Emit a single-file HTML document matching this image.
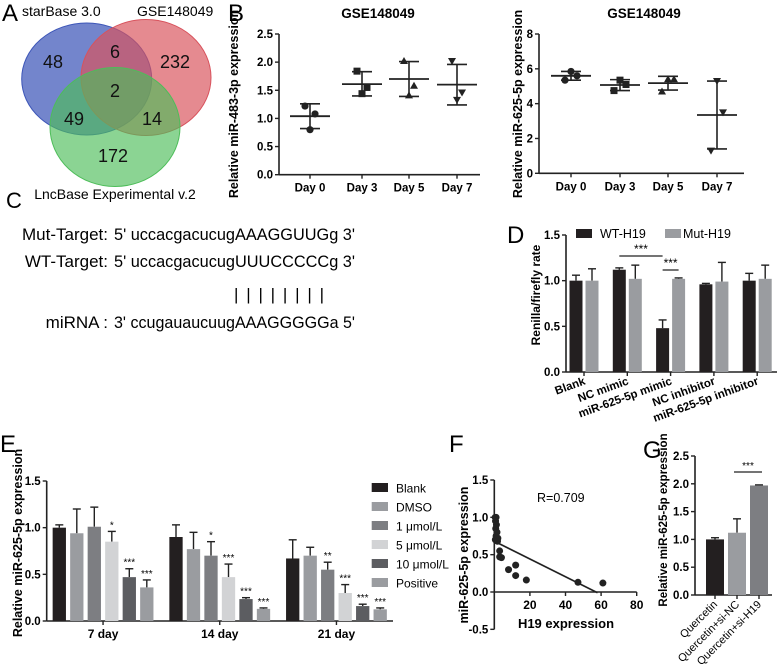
<!DOCTYPE html>
<html><head><meta charset="utf-8"><style>
html,body{margin:0;padding:0;background:#fff}
svg{display:block;font-family:"Liberation Sans",Arial,sans-serif}
.t{font-weight:bold;font-size:11.5px}
</style></head><body>
<svg id="fig" width="777" height="671" viewBox="0 0 777 671">
<g>
<text x="2" y="21" font-size="24">A</text>
<ellipse cx="86.7" cy="79" rx="65" ry="56" fill="#3d56b8" fill-opacity="0.72" stroke="#3d56b8"/>
<ellipse cx="146" cy="77.5" rx="65" ry="58" fill="#d8525c" fill-opacity="0.68" stroke="#d8525c"/>
<ellipse cx="115" cy="127" rx="65" ry="59.5" fill="#4dbd59" fill-opacity="0.65" stroke="#4dbd59"/>
<text x="22" y="16" font-size="14">starBase 3.0</text>
<text x="137" y="16" font-size="14">GSE148049</text>
<text x="115" y="199" font-size="14" text-anchor="middle">LncBase Experimental v.2</text>
<g font-size="18" text-anchor="middle" fill="#111">
<text x="53" y="68">48</text>
<text x="115" y="58">6</text>
<text x="175" y="68">232</text>
<text x="115" y="97">2</text>
<text x="74" y="125">49</text>
<text x="152" y="125">14</text>
<text x="113" y="162">172</text>
</g>
</g>
<text x="228" y="21" font-size="24">B</text>
<g font-size="17">
<text x="6" y="208" font-size="22">C</text>
<text x="108" y="240" text-anchor="end">Mut-Target:</text>
<text x="114" y="240" textLength="241" lengthAdjust="spacingAndGlyphs">5' uccacgacucugAAAGGUUGg 3'</text>
<text x="108" y="267" text-anchor="end">WT-Target:</text>
<text x="114" y="267" textLength="241" lengthAdjust="spacingAndGlyphs">5' uccacgacucugUUUCCCCCg 3'</text>
<text x="234" y="300" textLength="90" lengthAdjust="spacing">| | | | | | | |</text>
<text x="108" y="328" text-anchor="end">miRNA :</text>
<text x="114" y="328" textLength="241" lengthAdjust="spacingAndGlyphs">3' ccugauaucuugAAAGGGGGa 5'</text>
</g>
<text x="507" y="243" font-size="24">D</text>
<text x="0" y="452" font-size="24">E</text>
<text x="449" y="452" font-size="24">F</text>
<text x="643" y="458" font-size="24">G</text>
<g id="charts"></g>
</svg>
<script>
const bDays = ["Day 0","Day 3","Day 5","Day 7"];
const b1Points = [[1.22,1.08,0.80],[1.84,1.55,1.44],[2.02,1.58,1.41],[2.02,1.46,1.33]];
const b1Mean = [1.04,1.61,1.70,1.60];
const b1Low = [0.82,1.40,1.39,1.24];
const b1High = [1.26,1.83,2.01,1.96];
const b1Ticks = [0,0.5,1.0,1.5,2.0,2.5];
const b2Points = [[5.85,5.6,5.35],[5.35,5.1,4.75],[5.4,5.4,4.7],[5.3,3.5,1.3]];
const b2Mean = [5.6,5.07,5.18,3.35];
const b2Low = [5.35,4.75,4.78,1.4];
const b2High = [5.85,5.38,5.57,5.3];
const b2Ticks = [0,2,4,6,8];
const dGroups = ["Blank","NC mimic","miR-625-5p mimic","NC inhibitor","miR-625-5p inhibitor"];
const dWT = [1.0,1.12,0.48,0.96,1.0];
const dWTErr = [0.06,0.02,0.09,0.01,0.08];
const dMut = [1.0,1.02,1.02,0.99,1.02];
const dMutErr = [0.13,0.15,0.01,0.21,0.15];
const dTicks = [0,0.5,1.0,1.5];
const eGroups = ["7 day","14 day","21 day"];
const eSeries = ["Blank","DMSO","1 μmol/L","5 μmol/L","10 μmol/L","Positive"];
const eValues = [[1.0,0.94,1.01,0.85,0.47,0.36],[0.90,0.77,0.70,0.47,0.235,0.13],[0.67,0.70,0.55,0.30,0.16,0.125]];
const eErr = [[0.03,0.26,0.21,0.11,0.09,0.08],[0.13,0.18,0.15,0.14,0.015,0.01],[0.20,0.09,0.08,0.09,0.02,0.015]];
const eStars = [["","","","*","***","***"],["","","*","***","***","***"],["","","**","***","***","***"]];
const eTicks = [0,0.5,1.0,1.5];
const fX = [0.5,1,0.7,1.2,0.8,1.5,1,0.6,1.8,2,3,3,4,8,12,12,18,47,61];
const fY = [1.0,1.0,0.95,0.9,0.85,0.8,0.75,0.7,0.68,0.72,0.55,0.47,0.46,0.3,0.36,0.22,0.16,0.13,0.12];
const fFit = [0.68,-0.0119];
const fXTicks = [20,40,60,80];
const fYTicks = [-0.5,0,0.5,1.0,1.5];
const gGroups = ["Quercetin","Quercetin+si-NC","Quercetin+si-H19"];
const gValues = [1.0,1.12,1.97];
const gErr = [0.03,0.25,0.01];
const gTicks = [0,0.5,1.0,1.5,2.0,2.5];

const NS="http://www.w3.org/2000/svg";
const root=document.getElementById('charts');
function el(tag,attrs,parent,text){const e=document.createElementNS(NS,tag);for(const k in attrs)e.setAttribute(k,attrs[k]);if(text!==undefined)e.textContent=text;(parent||root).appendChild(e);return e;}
function lin(d0,d1,r0,r1){return v=>r0+(v-d0)*(r1-r0)/(d1-d0);}
function yAxis(g,x,y,ticks,fmt){
  const ax=el('line',{x1:x,x2:x,y1:y(ticks[ticks.length-1]),y2:y(ticks[0]),stroke:'#222','stroke-width':1.6},g);
  
  
  ticks.forEach(t=>{
    el('line',{x1:x-4,x2:x,y1:y(t),y2:y(t),stroke:'#222','stroke-width':1.4},g);
    const tl=el('text',{x:x-6,y:y(t)+4,'text-anchor':'end',class:'t'},g,fmt(t));
    
    
  });
}
function ylabel(g,x,cy,txt,size){
  const t=el('text',{x:x,y:cy,'text-anchor':'middle',transform:`rotate(-90 ${x} ${cy})`,'font-weight':'bold','font-size':size||12},g,txt);
  
  
}
function marker(g,kind,cx,cy){
  let m;
  if(kind===0)m=el('circle',{cx:cx,cy:cy,r:3.6,fill:'#222'},g);
  else if(kind===1)m=el('rect',{x:cx-3.5,y:cy-3.5,width:7,height:7,fill:'#222'},g);
  else if(kind===2)m=el('path',{d:`M${cx} ${cy-4}L${cx+4} ${cy+3}L${cx-4} ${cy+3}Z`,fill:'#222'},g);
  else m=el('path',{d:`M${cx} ${cy+4}L${cx+4} ${cy-3}L${cx-4} ${cy-3}Z`,fill:'#222'},g);
  
  
}
function dotPlot(name,title,titleX,axX,axEnd,xs,yScale,ticks,fmt,pts,mean,lo,hi,yl,ylx,offsets){
  const g=el('g',{});
  
  
  const tt=el('text',{x:titleX,y:18,'text-anchor':'middle','font-weight':'bold','font-size':13.5},g,title);
  
  
  yAxis(g,axX,yScale,ticks,fmt);
  const xa=el('line',{x1:axX,x2:axEnd,y1:yScale(0),y2:yScale(0),stroke:'#222','stroke-width':1.6},g);
  
  
  bDays.forEach((d,i)=>{
    const cx=xs[i];
    el('line',{x1:cx,x2:cx,y1:yScale(0),y2:yScale(0)+4,stroke:'#222','stroke-width':1.4},g);
    const lb=el('text',{x:cx,y:yScale(0)+17,'text-anchor':'middle',class:'t'},g,d);
    
    
    el('line',{x1:cx,x2:cx,y1:yScale(lo[i]),y2:yScale(hi[i]),stroke:'#222','stroke-width':1.6},g);
    el('line',{x1:cx-10,x2:cx+10,y1:yScale(lo[i]),y2:yScale(lo[i]),stroke:'#222','stroke-width':1.6},g);
    el('line',{x1:cx-10,x2:cx+10,y1:yScale(hi[i]),y2:yScale(hi[i]),stroke:'#222','stroke-width':1.6},g);
    const ml=el('line',{x1:cx-20,x2:cx+20,y1:yScale(mean[i]),y2:yScale(mean[i]),stroke:'#222','stroke-width':1.8},g);
    
    
    pts[i].forEach((v,j)=>marker(g,i,cx+offsets[j],yScale(v)));
  });
  ylabel(g,ylx,104,yl,12.5);
}
dotPlot('chart-b-mir483','GSE148049',378,279,480,[310,362,409,457],lin(0,2.5,174.7,34),b1Ticks,t=>t.toFixed(1),b1Points,b1Mean,b1Low,b1High,'Relative miR-483-3p expression',238,[-5,5,0]);
dotPlot('chart-b-mir625','GSE148049',644,539,744,[571,620,668,717],lin(0,8,173.3,34),b2Ticks,t=>String(t),b2Points,b2Mean,b2Low,b2High,'Relative miR-625-5p expression',522,[0,6,-6]);

(function(){
  const g=el('g',{});
  
  
  const y=lin(0,1.5,372,235);
  const axX=566, gx=i=>584+i*43.3, bw=13;
  yAxis(g,axX,y,dTicks,t=>t.toFixed(1));
  el('line',{x1:axX,x2:777,y1:y(0),y2:y(0),stroke:'#222','stroke-width':1.6},g);
  dGroups.forEach((nm,i)=>{
    [[dWT,dWTErr,'#231f20',-8],[dMut,dMutErr,'#9a9ca0',8]].forEach(([vals,err,col,off])=>{
      const cx=gx(i)+off;
      el('line',{x1:cx,x2:cx,y1:y(vals[i]),y2:y(vals[i]+err[i]),stroke:'#222','stroke-width':1.4},g);
      el('line',{x1:cx-4,x2:cx+4,y1:y(vals[i]+err[i]),y2:y(vals[i]+err[i]),stroke:'#222','stroke-width':1.4},g);
      const b=el('rect',{x:cx-bw/2,y:y(vals[i]),width:bw,height:y(0)-y(vals[i]),fill:col},g);
      
      
    });
    el('line',{x1:gx(i),x2:gx(i),y1:y(0),y2:y(0)+4,stroke:'#222','stroke-width':1.4},g);
    const tx=gx(i)+2, ty=y(0)+12;
    const lb=el('text',{x:tx,y:ty,'text-anchor':'end',class:'t','font-size':10.5,transform:`rotate(-20 ${tx} ${ty})`},g,nm);
    
    
  });
  el('line',{x1:gx(1)-8,x2:gx(2)-8,y1:256,y2:256,stroke:'#222','stroke-width':1.2},g);
  el('text',{x:(gx(1)+gx(2))/2-8,y:253,'text-anchor':'middle','font-size':12},g,'***');
  el('line',{x1:gx(2)-8,x2:gx(2)+8,y1:270,y2:270,stroke:'#222','stroke-width':1.2},g);
  el('text',{x:gx(2),y:267,'text-anchor':'middle','font-size':12},g,'***');
  const l1=el('rect',{x:576,y:229,width:16,height:9,fill:'#231f20'},g);
  
  
  el('text',{x:600,y:238,'font-size':12.5},g,'WT-H19');
  const l2=el('rect',{x:665,y:229,width:16,height:9,fill:'#9a9ca0'},g);
  
  
  el('text',{x:683,y:238,'font-size':12.5},g,'Mut-H19');
  ylabel(g,540,295,'Renilla/firefly rate',12);
})();

(function(){
  const g=el('g',{});
  
  
  const y=lin(0,1.5,621,481);
  const axX=46.7, colors=['#231f20','#9a9ca0','#7d7e82','#d2d3d5','#5c5d61','#9a9ca0'];
  const bx=(gi,si)=>59.3+gi*116.7+si*17.5, bw=13.3;
  yAxis(g,axX,y,eTicks,t=>t.toFixed(1));
  el('line',{x1:axX,x2:393,y1:y(0),y2:y(0),stroke:'#222','stroke-width':1.6},g);
  eGroups.forEach((gn,gi)=>{
    eSeries.forEach((sn,si)=>{
      const cx=bx(gi,si), v=eValues[gi][si], e=eErr[gi][si];
      el('line',{x1:cx,x2:cx,y1:y(v),y2:y(v+e),stroke:'#222','stroke-width':1.4},g);
      el('line',{x1:cx-4,x2:cx+4,y1:y(v+e),y2:y(v+e),stroke:'#222','stroke-width':1.4},g);
      const b=el('rect',{x:cx-bw/2,y:y(v),width:bw,height:y(0)-y(v),fill:colors[si]},g);
      
      
      if(eStars[gi][si]) el('text',{x:cx,y:y(v+e)-3,'text-anchor':'middle','font-size':10},g,eStars[gi][si]);
    });
    const cx=(bx(gi,0)+bx(gi,5))/2;
    el('line',{x1:cx,x2:cx,y1:y(0),y2:y(0)+4,stroke:'#222','stroke-width':1.4},g);
    const lb=el('text',{x:cx,y:y(0)+17,'text-anchor':'middle','font-weight':'bold','font-size':12},g,gn);
    
    
  });
  eSeries.forEach((sn,si)=>{
    const ly=483+si*19;
    const sw=el('rect',{x:371.7,y:ly,width:16.3,height:9,fill:colors[si]},g);
    
    
    const t=el('text',{x:396,y:ly+9.5,'font-size':12},g,sn);
    
    
  });
  ylabel(g,22,543,'Relative miR-625-5p expression',12.5);
})();

(function(){
  const g=el('g',{});
  
  
  const x=lin(0,80,494.3,636.7), y=lin(0,1.5,592,480);
  yAxis(g,494.3,y,fYTicks,t=>t.toFixed(1));
  el('line',{x1:494.3,x2:x(80),y1:y(0),y2:y(0),stroke:'#222','stroke-width':1.6},g);
  fXTicks.forEach(t=>{
    el('line',{x1:x(t),x2:x(t),y1:y(0),y2:y(0)+4,stroke:'#222','stroke-width':1.4},g);
    const lb=el('text',{x:x(t),y:y(0)+17,'text-anchor':'middle','font-weight':'bold','font-size':12},g,String(t));
    
    
  });
  fX.forEach((v,i)=>{
    const c=el('circle',{cx:x(v),cy:y(fY[i]),r:3.5,fill:'#222'},g);
    
    
  });
  const fl=el('line',{x1:x(1),y1:y(fFit[0]+fFit[1]*1),x2:x(58),y2:y(fFit[0]+fFit[1]*58),stroke:'#222','stroke-width':1.6},g);
  
  
  el('text',{x:537,y:502,'font-size':12.5},g,'R=0.709');
  const xl=el('text',{x:566,y:628,'text-anchor':'middle','font-weight':'bold','font-size':13},g,'H19 expression');
  
  
  ylabel(g,468,555,'miR-625-5p expression',12.5);
})();

(function(){
  const g=el('g',{});
  
  
  const y=lin(0,2.5,595,456), axX=695, cx=i=>715+i*22, bw=18, cols=['#231f20','#9a9ca0','#7d7e82'];
  yAxis(g,axX,y,gTicks,t=>t.toFixed(1));
  el('line',{x1:axX,x2:772,y1:y(0),y2:y(0),stroke:'#222','stroke-width':1.6},g);
  gGroups.forEach((nm,i)=>{
    const v=gValues[i], e=gErr[i];
    el('line',{x1:cx(i),x2:cx(i),y1:y(v),y2:y(v+e),stroke:'#222','stroke-width':1.4},g);
    el('line',{x1:cx(i)-4,x2:cx(i)+4,y1:y(v+e),y2:y(v+e),stroke:'#222','stroke-width':1.4},g);
    const b=el('rect',{x:cx(i)-bw/2,y:y(v),width:bw,height:y(0)-y(v),fill:cols[i]},g);
    
    
    el('line',{x1:cx(i),x2:cx(i),y1:y(0),y2:y(0)+4,stroke:'#222','stroke-width':1.4},g);
    const tx=cx(i)+3, ty=y(0)+10;
    const lb=el('text',{x:tx,y:ty,'text-anchor':'end','font-size':11,transform:`rotate(-45 ${tx} ${ty})`},g,nm);
    
    
  });
  el('line',{x1:cx(1)-3,x2:cx(2)+3,y1:472,y2:472,stroke:'#222','stroke-width':1.2},g);
  el('text',{x:(cx(1)+cx(2))/2,y:469,'text-anchor':'middle','font-size':10},g,'***');
  ylabel(g,667,520,'Relative miR-625-5p expression',11.5);
})();
</script>
</body></html>
